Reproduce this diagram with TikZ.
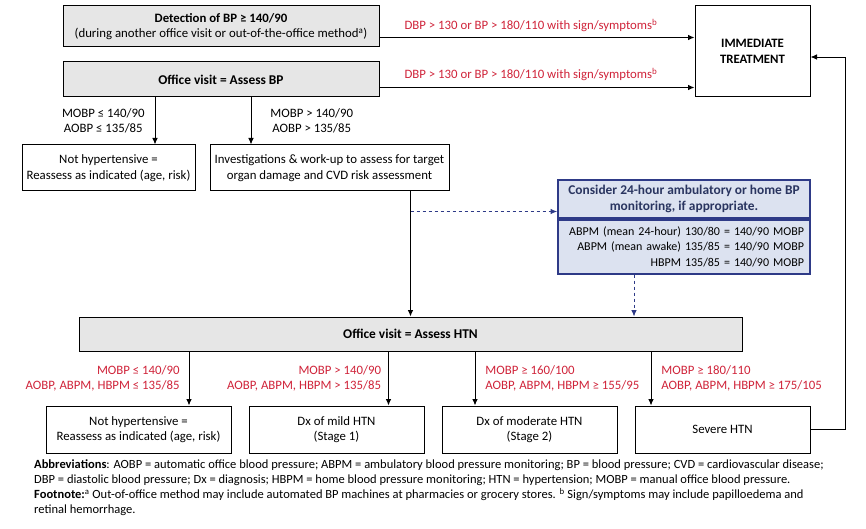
\documentclass[tikz,border=0pt]{standalone}
\usepackage{fontspec}
\setmainfont{Carlito}
\usepackage{tikz}
\usetikzlibrary{calc}
\usetikzlibrary{arrows.meta}
\usetikzlibrary{positioning}
\definecolor{BoxGray}{HTML}{E6E6E6}
\definecolor{AlertRed}{HTML}{D0243A}
\definecolor{ConsBlue}{HTML}{2E3A87}
\definecolor{ConsFill}{HTML}{DCE2F0}
\definecolor{ConsText}{HTML}{2A3560}

\begin{document}
\begin{tikzpicture}[
		x=1pt,y=1pt,
		font=\fontsize{12.8}{15.5}\selectfont,
		GrayBox/.style={draw=black,fill=BoxGray,line width=1pt,align=center,inner sep=0pt},
		PlainBox/.style={draw=black,fill=white,line width=1pt,align=center,inner sep=0pt},
		BlueBox/.style={draw=ConsBlue,fill=ConsFill,line width=1.8pt,inner sep=0pt},
		Connector/.style={-{Latex[length=6.5pt, width=5.5pt]},line width=0.9pt},
		DashConnector/.style={Connector,ConsBlue,dashed},
		RedLabel/.style={text=AlertRed,inner sep=0pt}
		]
		\useasboundingbox[fill=white] (0,0) rectangle (866,528);
		
		% top part
		\node[GrayBox,minimum width=316,minimum height=41] (detect) at (221,501.5)
		{\textbf{Detection of BP ≥ 140/90}\\(during another office visit or out-of-the-office method\textsuperscript{a})};
		\node[GrayBox,minimum width=316,minimum height=35] (assessBP) at (221,448.5)
		{\textbf{\fontsize{13.4}{15.5}\selectfont Office visit = Assess BP}};
		\node[PlainBox,minimum width=115,minimum height=91] (treat) at (752.5,476.5)
		{\textbf{IMMEDIATE}\\\textbf{TREATMENT}};
		
		\node[PlainBox,minimum width=173,minimum height=46] (nothypA) at (108.5,360)
		{Not hypertensive =\\Reassess as indicated (age, risk)};
		\node[PlainBox,minimum width=239,minimum height=46] (invest) at (329.5,360)
		{Investigations \& work-up to assess for target\\organ damage and CVD risk assessment};
		
		% monitoring box
		\node[BlueBox,minimum width=252,minimum height=38,text=ConsText,align=center,font=\fontsize{13.4}{15.5}\selectfont] (consH) at (684,329)
		{\textbf{Consider 24-hour ambulatory or home BP}\\\textbf{monitoring, if appropriate.}};
		\node[BlueBox,minimum width=252,minimum height=54,text width=240,align=right,anchor=north,font=\fontsize{12}{15.5}\selectfont] (consB) at (consH.south)
		{ABPM (mean 24-hour) 130/80 = 140/90 MOBP\\ABPM (mean awake) 135/85 = 140/90 MOBP\\HBPM 135/85 = 140/90 MOBP};
		
		% lower part
		\node[GrayBox,minimum width=663,minimum height=34] (htn) at (410.5,194)
		{\textbf{\fontsize{13.4}{15.5}\selectfont Office visit = Assess HTN}};
		
		\node[PlainBox,minimum width=185,minimum height=47] (nothypB) at (138.5,98.5)
		{Not hypertensive =\\Reassess as indicated (age, risk)};
		\node[PlainBox,minimum width=175,minimum height=47] (mild) at (336.5,98.5)
		{Dx of mild HTN\\(Stage 1)};
		\node[PlainBox,minimum width=175,minimum height=47] (moderate) at (529.5,98.5)
		{Dx of moderate HTN\\(Stage 2)};
		\node[PlainBox,minimum width=175,minimum height=47] (severe) at (722.5,98.5)
		{Severe HTN};
		
		% connectors
		\coordinate (d1) at ($(detect.south east)+(0,10)$);
		\coordinate (d2) at ($(assessBP.south east)+(0,10)$);
		\draw[Connector] (d1) -- (d1 -| treat.west)
		node[RedLabel,midway,above=5pt,xshift=-6pt]{DBP > 130 or BP > 180/110 with sign/symptoms\textsuperscript{b}};
		\draw[Connector] (d2) -- (d2 -| treat.west)
		node[RedLabel,midway,above=6pt,xshift=-6pt]{DBP > 130 or BP > 180/110 with sign/symptoms\textsuperscript{b}};
		
		\draw[Connector] ([xshift=-66pt]assessBP.south) -- ([xshift=-66pt]assessBP.south |- nothypA.north)
		node[midway,left=10pt,align=center,inner sep=0pt]{MOBP ≤ 140/90\\AOBP ≤ 135/85};
		\draw[Connector] ([xshift=30pt]assessBP.south) -- ([xshift=30pt]assessBP.south |- invest.north)
		node[midway,right=19pt,align=center,inner sep=0pt]{MOBP > 140/90\\AOBP > 135/85};
		
		\draw[Connector] (invest.south -| htn.north) -- (htn.north);
		\coordinate (dd) at ($(invest.south -| htn.north)+(0,-20)$);
		\draw[DashConnector] (dd) -- (dd -| consH.west);
		\draw[DashConnector] ([xshift=-50pt]consB.south) -- ([xshift=-50pt]consB.south |- htn.north);
		
		\draw[Connector] ([xshift=-221.5pt]htn.south) -- ([xshift=-221.5pt]htn.south |- nothypB.north)
		node[RedLabel,midway,left=9pt,align=right]{MOBP ≤ 140/90\\AOBP, ABPM, HBPM ≤ 135/85};
		\draw[Connector] ([xshift=-22pt]htn.south) -- ([xshift=-22pt]htn.south |- mild.north)
		node[RedLabel,midway,left=7pt,align=right]{MOBP > 140/90\\AOBP, ABPM, HBPM > 135/85};
		\draw[Connector] ([xshift=64.5pt]htn.south) -- ([xshift=64.5pt]htn.south |- moderate.north)
		node[RedLabel,midway,right=10pt,align=left]{MOBP ≥ 160/100\\AOBP, ABPM, HBPM ≥ 155/95};
		\draw[Connector] ([xshift=240.5pt]htn.south) -- ([xshift=240.5pt]htn.south |- severe.north)
		node[RedLabel,midway,right=10pt,align=left]{MOBP ≥ 180/110\\AOBP, ABPM, HBPM ≥ 175/105};
		
		\draw[Connector] (severe.east) -- ++(35,0) |- ([yshift=-5.5pt]treat.east);
		
		% notes
		\node[anchor=north west,align=left,inner sep=0pt,font=\fontsize{12.5}{15}\selectfont] (notes) at (34,68)
		{\textbf{Abbreviations}: AOBP = automatic office blood pressure; ABPM = ambulatory blood pressure monitoring; BP = blood pressure; CVD = cardiovascular disease;\\
			DBP = diastolic blood pressure; Dx = diagnosis; HBPM = home blood pressure monitoring; HTN = hypertension; MOBP = manual office blood pressure.\\
			\textbf{Footnote:}\textsuperscript{a} Out-of-office method may include automated BP machines at pharmacies or grocery stores. \textsuperscript{b} Sign/symptoms may include papilloedema and\\
			retinal hemorrhage.};
		
	\end{tikzpicture}
\end{document}
